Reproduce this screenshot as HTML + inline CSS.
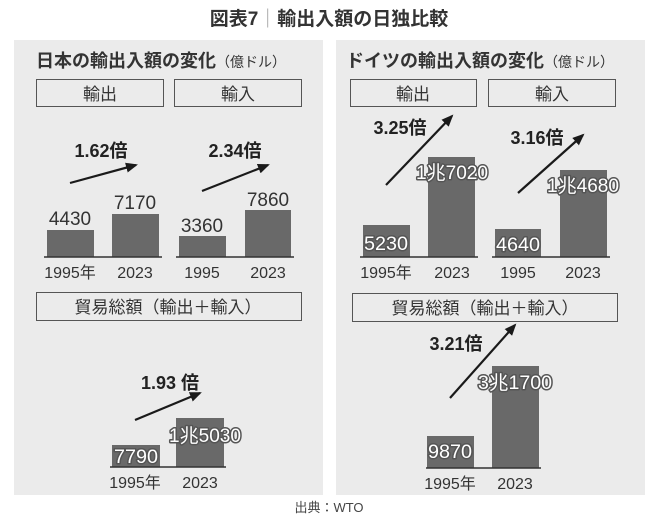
<!DOCTYPE html><html><head><meta charset="utf-8"><style>body{margin:0;background:#fff}svg{display:block}text{font-family:"Liberation Sans","Noto Sans CJK JP",sans-serif}</style></head><body>
<svg width="658" height="523" viewBox="0 0 658 523" xmlns="http://www.w3.org/2000/svg">
<defs><marker id="b" markerWidth="12" markerHeight="10" refX="10" refY="5" orient="auto" markerUnits="userSpaceOnUse"><path d="M0,0 L12,5 L0,10 Z" fill="#1a1a1a"/></marker></defs>
<text x="329" y="25" text-anchor="middle" font-size="19" font-weight="bold" fill="#333">図表7<tspan fill="#999" font-weight="normal">｜</tspan>輸出入額の日独比較</text>
<rect x="14" y="40" width="309" height="455" fill="#ebebeb"/>
<rect x="336" y="40" width="309" height="455" fill="#ebebeb"/>
<g fill="#333" font-size="18" font-weight="bold">
<text x="36" y="67">日本の輸出入額の変化<tspan font-size="14" font-weight="normal">（億ドル）</tspan></text>
<text x="346" y="67">ドイツの輸出入額の変化<tspan font-size="14" font-weight="normal">（億ドル）</tspan></text></g>
<g fill="none" stroke="#555" stroke-width="1"><rect x="36.5" y="79.5" width="127" height="27"/><rect x="174.5" y="79.5" width="127" height="27"/><rect x="350.5" y="79.5" width="126" height="27"/><rect x="488.5" y="79.5" width="127" height="27"/><rect x="36.5" y="292.5" width="265" height="28"/><rect x="352.5" y="293.5" width="265" height="28"/></g>
<g font-size="17" fill="#333" text-anchor="middle">
<text x="100" y="100">輸出</text><text x="238" y="100">輸入</text><text x="413" y="100">輸出</text><text x="552" y="100">輸入</text>
<text x="168" y="313">貿易総額（輸出＋輸入）</text><text x="485" y="314">貿易総額（輸出＋輸入）</text></g>
<g fill="#696969">
<rect x="47" y="230" width="47" height="27"/><rect x="112" y="214" width="47" height="43"/><rect x="179" y="236" width="47" height="21"/><rect x="245" y="210" width="46" height="47"/>
<rect x="112" y="445" width="48" height="22"/><rect x="176" y="418" width="48" height="49"/>
<rect x="363" y="225" width="47" height="32"/><rect x="428" y="157" width="47" height="100"/><rect x="495" y="229" width="46" height="28"/><rect x="560" y="170" width="47" height="87"/>
<rect x="427" y="436" width="47" height="32"/><rect x="492" y="366" width="47" height="102"/></g>
<g stroke="#333" stroke-width="1.5"><line x1="44" y1="257" x2="162" y2="257"/><line x1="176" y1="257" x2="294" y2="257"/><line x1="110" y1="467" x2="226" y2="467"/><line x1="360" y1="257" x2="478" y2="257"/><line x1="492" y1="257" x2="610" y2="257"/><line x1="426" y1="468" x2="541" y2="468"/></g>
<g font-size="19" fill="#333" text-anchor="middle">
<text x="70" y="225">4430</text><text x="135" y="209">7170</text><text x="202" y="232">3360</text><text x="268" y="206">7860</text></g>
<g font-size="19" fill="#fff" text-anchor="middle" stroke="#555" stroke-width="3" paint-order="stroke" stroke-linejoin="round">
<text x="386" y="250" textLength="44" lengthAdjust="spacingAndGlyphs">5230</text><text x="452" y="179" textLength="72" lengthAdjust="spacingAndGlyphs">1兆7020</text><text x="518" y="251" textLength="44" lengthAdjust="spacingAndGlyphs">4640</text><text x="583" y="192" textLength="72" lengthAdjust="spacingAndGlyphs">1兆4680</text>
<text x="136" y="463" textLength="44" lengthAdjust="spacingAndGlyphs">7790</text><text x="205" y="442" textLength="72" lengthAdjust="spacingAndGlyphs">1兆5030</text>
<text x="450" y="458" textLength="44" lengthAdjust="spacingAndGlyphs">9870</text><text x="515" y="389" textLength="74" lengthAdjust="spacingAndGlyphs">3兆1700</text></g>
<g font-size="16" fill="#333" text-anchor="middle">
<text x="70" y="278">1995年</text><text x="135" y="278">2023</text><text x="202" y="278">1995</text><text x="268" y="278">2023</text>
<text x="386" y="278">1995年</text><text x="452" y="278">2023</text><text x="518" y="278">1995</text><text x="583" y="278">2023</text>
<text x="135" y="488">1995年</text><text x="200" y="488">2023</text>
<text x="450" y="489">1995年</text><text x="515" y="489">2023</text></g>
<g font-size="18" font-weight="bold" fill="#222" text-anchor="middle">
<text x="101" y="157">1.62倍</text><text x="235" y="157">2.34倍</text><text x="400" y="134">3.25倍</text><text x="537" y="144">3.16倍</text><text x="170" y="389">1.93 倍</text><text x="456" y="350">3.21倍</text></g>
<g stroke="#1a1a1a" stroke-width="2.2">
<line x1="70" y1="183" x2="136" y2="165" marker-end="url(#b)"/><line x1="202" y1="191" x2="268" y2="165" marker-end="url(#b)"/>
<line x1="386" y1="185" x2="452" y2="116" marker-end="url(#b)"/><line x1="518" y1="193" x2="583" y2="135" marker-end="url(#b)"/>
<line x1="135" y1="420" x2="200" y2="393" marker-end="url(#b)"/><line x1="450" y1="398" x2="515" y2="325" marker-end="url(#b)"/></g>
<text x="329" y="512" text-anchor="middle" font-size="13" fill="#444">出典：WTO</text>
</svg></body></html>
